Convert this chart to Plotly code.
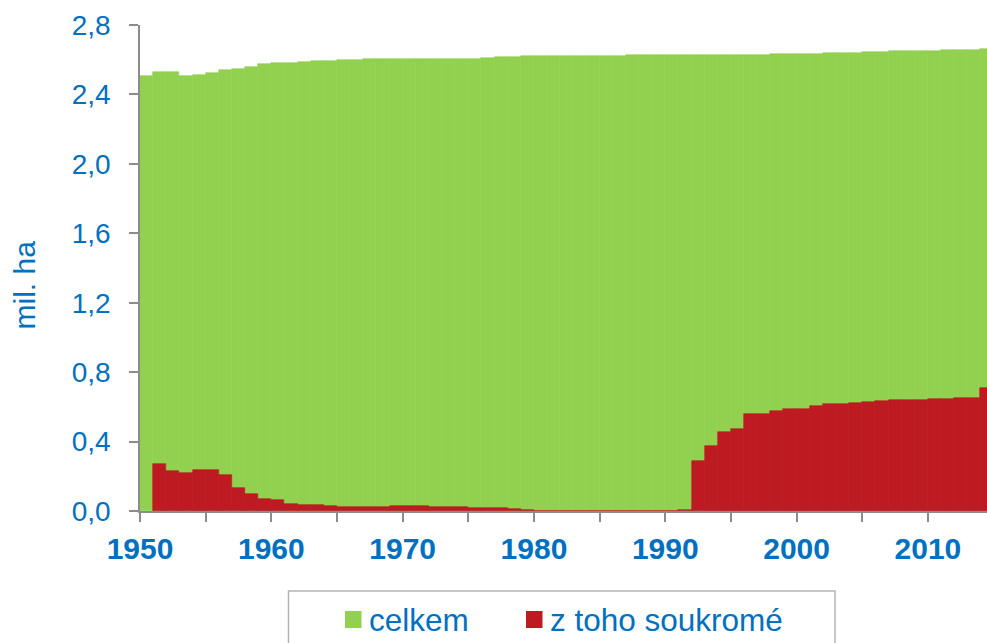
import plotly.graph_objects as go

years = list(range(1950, 2015))

total = [2.507, 2.530, 2.530, 2.504, 2.511, 2.523, 2.540, 2.546, 2.559, 2.573,
         2.580, 2.583, 2.588, 2.594, 2.594, 2.598, 2.598, 2.602, 2.602, 2.602,
         2.605, 2.603, 2.607, 2.602, 2.603, 2.607, 2.611, 2.615, 2.615, 2.619,
         2.619, 2.622, 2.622, 2.622, 2.622, 2.622, 2.622, 2.626, 2.626, 2.626,
         2.626, 2.626, 2.626, 2.628, 2.628, 2.628, 2.628, 2.628, 2.634, 2.634,
         2.634, 2.634, 2.638, 2.638, 2.638, 2.642, 2.642, 2.648, 2.648, 2.651,
         2.651, 2.655, 2.655, 2.655, 2.661]

private = [None, 0.273, 0.229, 0.221, 0.239, 0.239, 0.206, 0.133, 0.098, 0.067,
           0.062, 0.043, 0.037, 0.033, 0.027, 0.025, 0.025, 0.023, 0.023, 0.027,
           0.029, 0.029, 0.025, 0.025, 0.021, 0.020, 0.017, 0.016, 0.012, 0.006,
           0.002, 0, 0, 0, 0, 0, 0, 0, 0, 0,
           0, 0.004, 0.288, 0.373, 0.454, 0.473, 0.557, 0.561, 0.576, 0.590,
           0.590, 0.605, 0.619, 0.615, 0.625, 0.628, 0.634, 0.638, 0.642, 0.642,
           0.646, 0.646, 0.650, 0.650, 0.707]

series_names = ["celkem", "z toho soukromé"]
y_ticks = [0, 0.4, 0.8, 1.2, 1.6, 2.0, 2.4, 2.8]
x_label_years = [1950, 1960, 1970, 1980, 1990, 2000, 2010]
y_title = "mil. ha"

GREEN = "#92D050"
RED = "#BE1A21"
BLUE = "#0070C0"
AXIS = "#8C8C8C"
FONT = "Liberation Sans, Arial, sans-serif"

W, H = 987, 643
L, R, T, B = 140, 0, 25, 132
PW, PH = W - L - R, H - T - B


def px(xp):
    return (xp - L) / PW


def py(yp):
    return (H - B - yp) / PH


xc = [y + 0.5 for y in years]

fig = go.Figure()
fig.add_trace(go.Bar(x=xc, y=total, width=1, name=series_names[0], showlegend=False,
                     marker=dict(color=GREEN, line=dict(color=GREEN, width=0.6))))
fig.add_trace(go.Bar(x=xc, y=private, width=1, name=series_names[1], showlegend=False,
                     marker=dict(color=RED, line=dict(color=RED, width=0.6))))

tickvals = list(range(1950, 2015, 5))
ticktext = [str(v) if v in x_label_years else "" for v in tickvals]

shapes = [
    dict(type="rect", xref="paper", yref="paper",
         x0=px(288.5), x1=px(835), y0=py(591), y1=py(720),
         line=dict(color="#B4B4B4", width=1.5), fillcolor="rgba(0,0,0,0)"),
    dict(type="rect", xref="paper", yref="paper",
         x0=px(345), x1=px(361.5), y0=py(611), y1=py(628),
         line=dict(width=0), fillcolor=GREEN),
    dict(type="rect", xref="paper", yref="paper",
         x0=px(526), x1=px(542.5), y0=py(611), y1=py(628),
         line=dict(width=0), fillcolor=RED),
]

annotations = [
    dict(text=series_names[0], xref="paper", yref="paper", x=px(367), y=py(620),
         xanchor="left", yanchor="middle", showarrow=False,
         font=dict(size=31.5, color=BLUE, family=FONT)),
    dict(text=series_names[1], xref="paper", yref="paper", x=px(547.5), y=py(620),
         xanchor="left", yanchor="middle", showarrow=False,
         font=dict(size=31.5, color=BLUE, family=FONT)),
    dict(text=y_title, xref="paper", yref="paper", x=px(24), y=py(285.5),
         xanchor="center", yanchor="middle", textangle=-90, showarrow=False,
         font=dict(size=30, color=BLUE, family=FONT)),
]

fig.update_layout(
    width=W, height=H,
    margin=dict(l=L, r=R, t=T, b=B, pad=0),
    barmode="overlay",
    bargap=0,
    plot_bgcolor="white", paper_bgcolor="white",
    separators=", ",
    font=dict(family=FONT, color=BLUE),
    showlegend=False,
    shapes=shapes,
    annotations=annotations,
)

fig.update_xaxes(
    range=[1950, 2014.5], automargin=False,
    tickmode="array", tickvals=tickvals, ticktext=ticktext,
    ticks="outside", ticklen=9, tickcolor=AXIS, tickwidth=1.5,
    showline=True, linecolor=AXIS, linewidth=1.5,
    showgrid=False, zeroline=False,
    tickfont=dict(size=30, color=BLUE, family=FONT, weight="bold"),
    ticklabelstandoff=1,
)
fig.update_yaxes(
    range=[0, 2.8], automargin=False,
    tickmode="array", tickvals=y_ticks, tickformat=".1f",
    ticks="outside", ticklen=9, tickcolor=AXIS, tickwidth=1.5,
    showline=True, linecolor=AXIS, linewidth=1.5,
    showgrid=False, zeroline=False,
    tickfont=dict(size=28, color=BLUE, family=FONT),
    ticklabelstandoff=13,
)

fig.write_html(
    "out.html",
    config={"displayModeBar": False},
    post_script="document.body.style.margin='0';document.body.style.overflow='hidden';",
)
